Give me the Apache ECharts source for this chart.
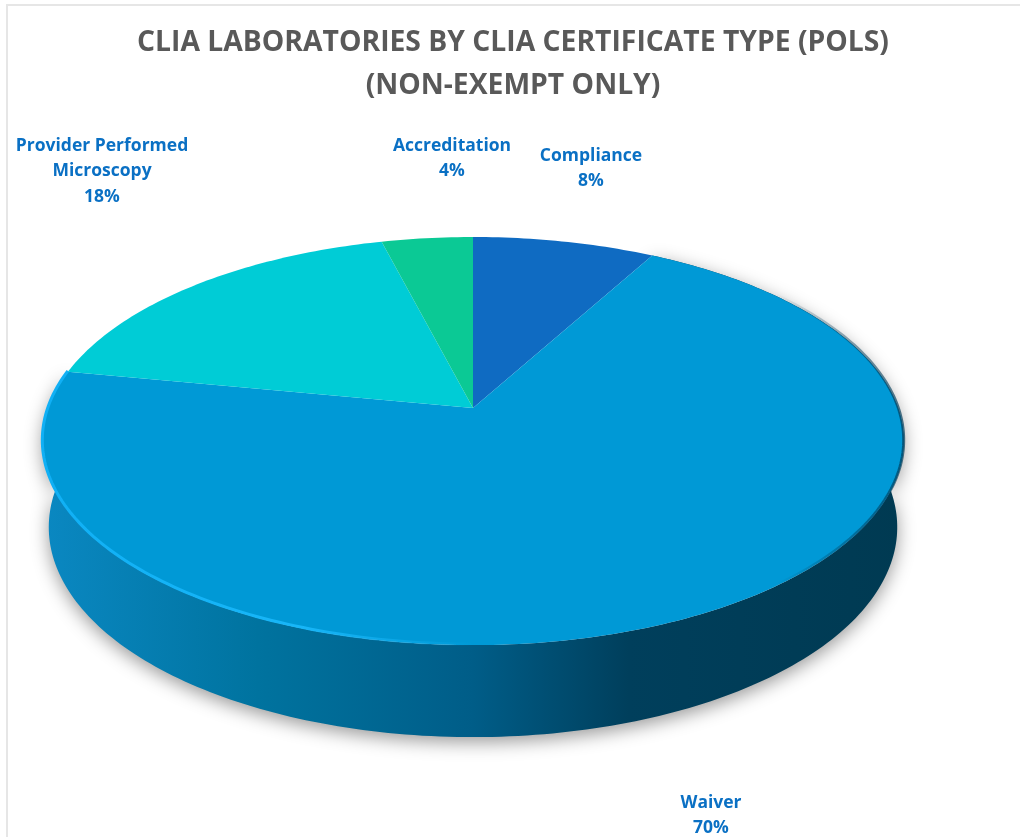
<!DOCTYPE html>
<html>
<head>
    <meta charset="UTF-8">
    <title>CLIA Laboratories by CLIA Certificate Type (POLs)</title>
    <script src="https://cdn.jsdelivr.net/npm/echarts@6/dist/echarts.min.js"></script>
    <style>
        body {
            margin: 0;
            padding: 0;
            background: #fff;
        }

        #frame {
            position: absolute;
            left: 6px;
            top: 4px;
            width: 1014px;
            height: 833px;
            border-left: 2px solid #e6e6e6;
            border-top: 2px solid #e6e6e6;
            box-sizing: border-box;
        }

        #chart {
            position: absolute;
            left: 0;
            top: 0;
            width: 1020px;
            height: 837px;
        }
    </style>
</head>
<body>
<div id="frame"></div>
<div id="chart"></div>

<script>
// data, clockwise from 12 o'clock
const categories = ['Compliance', 'Waiver', 'Provider Performed\nMicroscopy', 'Accreditation'];
const shares = [8, 70, 18, 4];
const sliceColors = ['#0f6bc2', '#0099d6', '#00ccd6', '#0bc995'];

// label centres, first line
const labelX = [591, 711, 102, 452];
const labelY = [154, 801, 144, 144];

// pie apex and tilt (circle goes through a perspective transform)
const cx = 473, cy = 408;
const radiusX = 425, radiusY = 198.7, persp = 0.162;
const STEP = Math.PI / 180;

function project(a) {
    // a = clockwise angle from top
    const u = Math.sin(a), v = -Math.cos(a);
    const w = 1 - persp * v;
    return [cx + radiusX * u / w, cy + radiusY * v / w];
}

function projectBottom(a) {
    const p = project(a);
    const depth = 85 + 7 * (-Math.cos(a));
    return [cx + (p[0] - cx) * 0.985, p[1] + depth];
}

function arcAngles(i) {
    const total = shares.reduce((s, v) => s + v, 0);
    const before = shares.slice(0, i).reduce((s, v) => s + v, 0);
    const start = before / total * Math.PI * 2;
    const end = (before + shares[i]) / total * Math.PI * 2;
    const list = [];
    for (let a = start; a < end; a += STEP) list.push(a);
    list.push(end);
    return list;
}

// side wall, seen only below the Waiver slice
function renderWall(params, api) {
    const angles = arcAngles(api.value(0));
    const points = angles.map(project).concat(angles.slice().reverse().map(projectBottom));
    return {
        type: 'polygon',
        shape: { points: points },
        style: {
            fill: new echarts.graphic.LinearGradient(42, 0, 905, 0, [
                { offset: 0, color: '#0a88c2' },
                { offset: 0.25, color: '#00739f' },
                { offset: 0.5, color: '#005d88' },
                { offset: 0.68, color: '#003f5c' },
                { offset: 1, color: '#003a52' }
            ], true),
            shadowBlur: 18,
            shadowOffsetY: 5,
            shadowColor: 'rgba(0,0,0,0.4)'
        }
    };
}

function renderSlice(params, api) {
    const i = api.value(0);
    const points = [[cx, cy]].concat(arcAngles(i).map(project));
    return {
        type: 'polygon',
        shape: { points: points },
        style: { fill: sliceColors[i] }
    };
}

// bevel along the front edge: bright on the left, dark on the right
function renderRim(params, api) {
    const points = arcAngles(1).map(project).map(p => [p[0], p[1] - 1]);
    return {
        type: 'polyline',
        shape: { points: points },
        style: {
            fill: 'none',
            lineWidth: 3,
            stroke: new echarts.graphic.LinearGradient(42, 0, 905, 0, [
                { offset: 0, color: '#10b0f5' },
                { offset: 0.3, color: '#18b6f8' },
                { offset: 0.5, color: 'rgba(24,182,248,0)' },
                { offset: 0.85, color: 'rgba(0,60,90,0)' },
                { offset: 0.94, color: 'rgba(0,60,90,0.45)' },
                { offset: 1, color: 'rgba(0,60,90,0.7)' }
            ], true)
        }
    };
}

function renderLabel(params, api) {
    const i = api.value(0);
    return {
        type: 'text',
        x: labelX[i],
        y: labelY[i] - 11,
        style: {
            text: categories[i] + '\n' + shares[i] + '%',
            fill: '#0a70c4',
            font: 'bold 17.5px "Open Sans", sans-serif',
            lineHeight: 25.5,
            align: 'center',
            verticalAlign: 'top'
        }
    };
}

const seriesData = categories.map((name, i) => [i, shares[i]]);

const chart = echarts.init(document.getElementById('chart'));
chart.setOption({
    animation: false,
    title: {
        text: 'CLIA LABORATORIES BY CLIA CERTIFICATE TYPE (POLS)\n(NON-EXEMPT ONLY)',
        left: 508,
        top: 16,
        textAlign: 'center',
        textStyle: {
            fontFamily: 'Open Sans',
            fontWeight: 'bold',
            fontSize: 28.3,
            lineHeight: 43,
            color: '#595959'
        }
    },
    series: [
        { type: 'custom', coordinateSystem: 'none', renderItem: renderWall, data: [seriesData[1]], silent: true },
        { type: 'custom', coordinateSystem: 'none', renderItem: renderSlice, data: seriesData, silent: true },
        { type: 'custom', coordinateSystem: 'none', renderItem: renderRim, data: [seriesData[1]], silent: true },
        { type: 'custom', coordinateSystem: 'none', renderItem: renderLabel, data: seriesData, silent: true }
    ]
});
</script>
</body>
</html>
